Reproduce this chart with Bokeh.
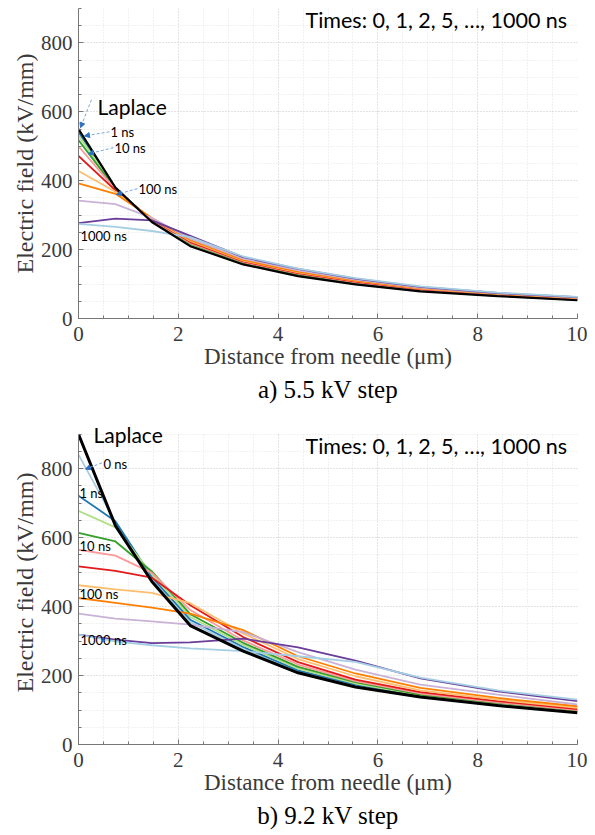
from bokeh.plotting import figure
from bokeh.layouts import column
from bokeh.models import Label, Arrow, NormalHead, Title, Range1d, FixedTicker
from bokeh.embed import file_html
from bokeh.resources import INLINE

# ---- data ----
distance = [0, 0.74, 1.47, 2.24, 3.3, 4.4, 5.55, 6.85, 8.4, 10]
series_names = ["0 ns", "1 ns", "2 ns", "5 ns", "10 ns", "20 ns", "50 ns",
                "100 ns", "200 ns", "500 ns", "1000 ns"]
series_colors = ["#a6cee3", "#1f78b4", "#b2df8a", "#33a02c", "#fb9a99", "#e31a1c",
                 "#fdbf6f", "#ff7f00", "#cab2d6", "#6a3d9a", "#a6cee3"]

# a) 5.5 kV step
laplace_a = [550, 380, 280, 210, 157, 123, 99, 79, 65, 53]
a_0 = [546, 380, 281, 212, 158, 124, 100, 80, 66, 54]
a_1 = [541, 379, 282, 213, 159, 125, 101, 81, 66, 54]
a_2 = [531, 378, 283, 215, 160, 126, 102, 82, 67, 55]
a_5 = [518, 377, 284, 217, 162, 128, 103, 83, 68, 56]
a_10 = [500, 375, 286, 219, 164, 130, 105, 84, 69, 57]
a_20 = [472, 372, 288, 222, 166, 132, 107, 85, 70, 58]
a_50 = [428, 368, 290, 225, 168, 134, 109, 87, 71, 59]
a_100 = [392, 362, 292, 228, 170, 136, 110, 88, 72, 60]
a_200 = [342, 332, 292, 232, 174, 140, 113, 90, 73, 61]
a_500 = [277, 290, 285, 240, 178, 144, 116, 92, 74, 62]
a_1000 = [275, 266, 254, 236, 180, 145, 117, 93, 75, 63]

# b) 9.2 kV step
laplace_b = [900, 635, 473, 345, 271, 208, 167, 138, 113, 92]
b_0 = [841, 645, 480, 355, 277, 212, 171, 140, 116, 95]
b_1 = [722, 648, 486, 362, 283, 215, 174, 141, 117, 95]
b_2 = [678, 630, 494, 370, 289, 220, 177, 143, 119, 97]
b_5 = [614, 589, 502, 378, 295, 225, 181, 145, 121, 99]
b_10 = [565, 548, 498, 390, 302, 232, 184, 148, 122, 100]
b_20 = [517, 504, 484, 404, 312, 239, 188, 152, 126, 103]
b_50 = [462, 450, 440, 410, 322, 248, 198, 157, 130, 106]
b_100 = [425, 411, 397, 380, 332, 256, 206, 164, 135, 111]
b_200 = [380, 365, 357, 348, 326, 268, 217, 174, 145, 116]
b_500 = [319, 304, 294, 296, 307, 282, 243, 192, 154, 126]
b_1000 = [319, 299, 288, 279, 271, 256, 240, 194, 157, 130]

x_ticks = [0, 2, 4, 6, 8, 10]
y_ticks = [0, 200, 400, 600, 800]
Y_MAX = 900

SERIF = "Liberation Serif"
SANS = "Lato"
AX_COLOR = "#3a3a3a"


def make_fig(laplace, series, caption, top_border, bottom_border, laplace_width, headroom):
    y_top = Y_MAX + headroom
    p = figure(frame_width=499, frame_height=round(310 * y_top / Y_MAX),
               output_backend="svg", toolbar_location=None,
               x_range=Range1d(0, 10), y_range=Range1d(0, y_top),
               min_border_left=78, min_border_right=10,
               min_border_top=top_border, min_border_bottom=bottom_border)
    p.outline_line_color = None
    p.background_fill_color = "white"
    for ax in (p.xaxis[0], p.yaxis[0]):
        ax.axis_line_color = "#777777"
        ax.major_tick_line_color = "#777777"
        ax.minor_tick_line_color = "#777777"
        ax.major_tick_in = 5
        ax.major_tick_out = 0
        ax.minor_tick_in = 3
        ax.minor_tick_out = 0
        ax.major_label_text_font = SERIF
        ax.major_label_text_font_size = "21px"
        ax.major_label_text_color = AX_COLOR
        ax.axis_label_text_font = SERIF
        ax.axis_label_text_font_style = "normal"
        ax.axis_label_text_color = AX_COLOR
        ax.axis_label_standoff = 0
    p.yaxis[0].bounds = (0, Y_MAX)
    p.xaxis[0].ticker = FixedTicker(ticks=x_ticks, minor_ticks=[i * 0.5 for i in range(21)])
    p.yaxis[0].ticker = FixedTicker(ticks=y_ticks, minor_ticks=[i * 50 for i in range(19)])
    p.xaxis[0].axis_label = "Distance from needle (\u03bcm)"
    p.yaxis[0].axis_label = "Electric field (kV/mm)"
    p.xaxis[0].axis_label_text_font_size = "23px"
    p.yaxis[0].axis_label_text_font_size = "24px"
    p.xaxis[0].major_label_standoff = 8
    p.yaxis[0].major_label_standoff = 6
    for g in (p.xgrid[0], p.ygrid[0]):
        g.grid_line_color = "#d4d4d4"
        g.grid_line_dash = "1 2"
        g.minor_grid_line_color = "#e2e2e2"
        g.minor_grid_line_dash = "1 2"
    p.xgrid[0].cross_bounds = (0, Y_MAX)
    p.ygrid[0].bounds = (0, Y_MAX)

    for vals, color in zip(series, series_colors):
        p.line(distance, vals, line_color=color, line_width=1.8)
    p.line(distance, laplace, line_color="black", line_width=laplace_width)

    p.add_layout(Title(text=caption, align="center", text_font=SERIF,
                       text_font_size="25px", text_font_style="normal",
                       text_color="black", standoff=5), "below")
    return p


def add_label(p, x, y, text, size):
    p.add_layout(Label(x=x, y=y, text=text, text_font=SANS, text_font_size=size,
                       text_baseline="middle", text_align="left", text_color="black"))


def add_arrow(p, x0, y0, x1, y1):
    p.add_layout(Arrow(x_start=x0, y_start=y0, x_end=x1, y_end=y1,
                       line_color="#7aa6d8", line_width=1, line_dash="3 2",
                       end=NormalHead(size=5, fill_color="#2c6fbf", line_color="#2c6fbf")))


p1 = make_fig(laplace_a, [a_0, a_1, a_2, a_5, a_10, a_20, a_50, a_100, a_200, a_500, a_1000],
              "a) 5.5 kV step", 8, 96, 2.2, 0)
add_label(p1, 4.55, 867, "Times: 0, 1, 2, 5, \u2026, 1000 ns", "21.5px")
add_label(p1, 0.38, 615, "Laplace", "21px")
add_label(p1, 0.64, 542, series_names[1], "13px")
add_label(p1, 0.72, 496, series_names[4], "13px")
add_label(p1, 1.20, 377, series_names[7], "13px")
add_label(p1, 0.04, 240, series_names[10], "13px")
add_arrow(p1, 0.26, 635, 0.04, 554)
add_arrow(p1, 0.62, 542, 0.12, 530)
add_arrow(p1, 0.70, 496, 0.20, 478)
add_arrow(p1, 1.18, 377, 0.76, 360)

p2 = make_fig(laplace_b, [b_0, b_1, b_2, b_5, b_10, b_20, b_50, b_100, b_200, b_500, b_1000],
              "b) 9.2 kV step", 6, 88, 3.0, 40)
add_label(p2, 4.55, 867, "Times: 0, 1, 2, 5, \u2026, 1000 ns", "21.5px")
add_label(p2, 0.30, 900, "Laplace", "21px")
add_label(p2, 0.50, 815, series_names[0], "13px")
add_label(p2, 0.02, 731, series_names[1], "13px")
add_label(p2, 0.02, 577, series_names[4], "13px")
add_label(p2, 0.02, 438, series_names[7], "13px")
add_label(p2, 0.04, 304, series_names[10], "13px")
add_arrow(p2, 0.47, 817, 0.14, 799)

layout = column(p1, p2, spacing=0)
open("out.html", "w").write(file_html(layout, INLINE))
